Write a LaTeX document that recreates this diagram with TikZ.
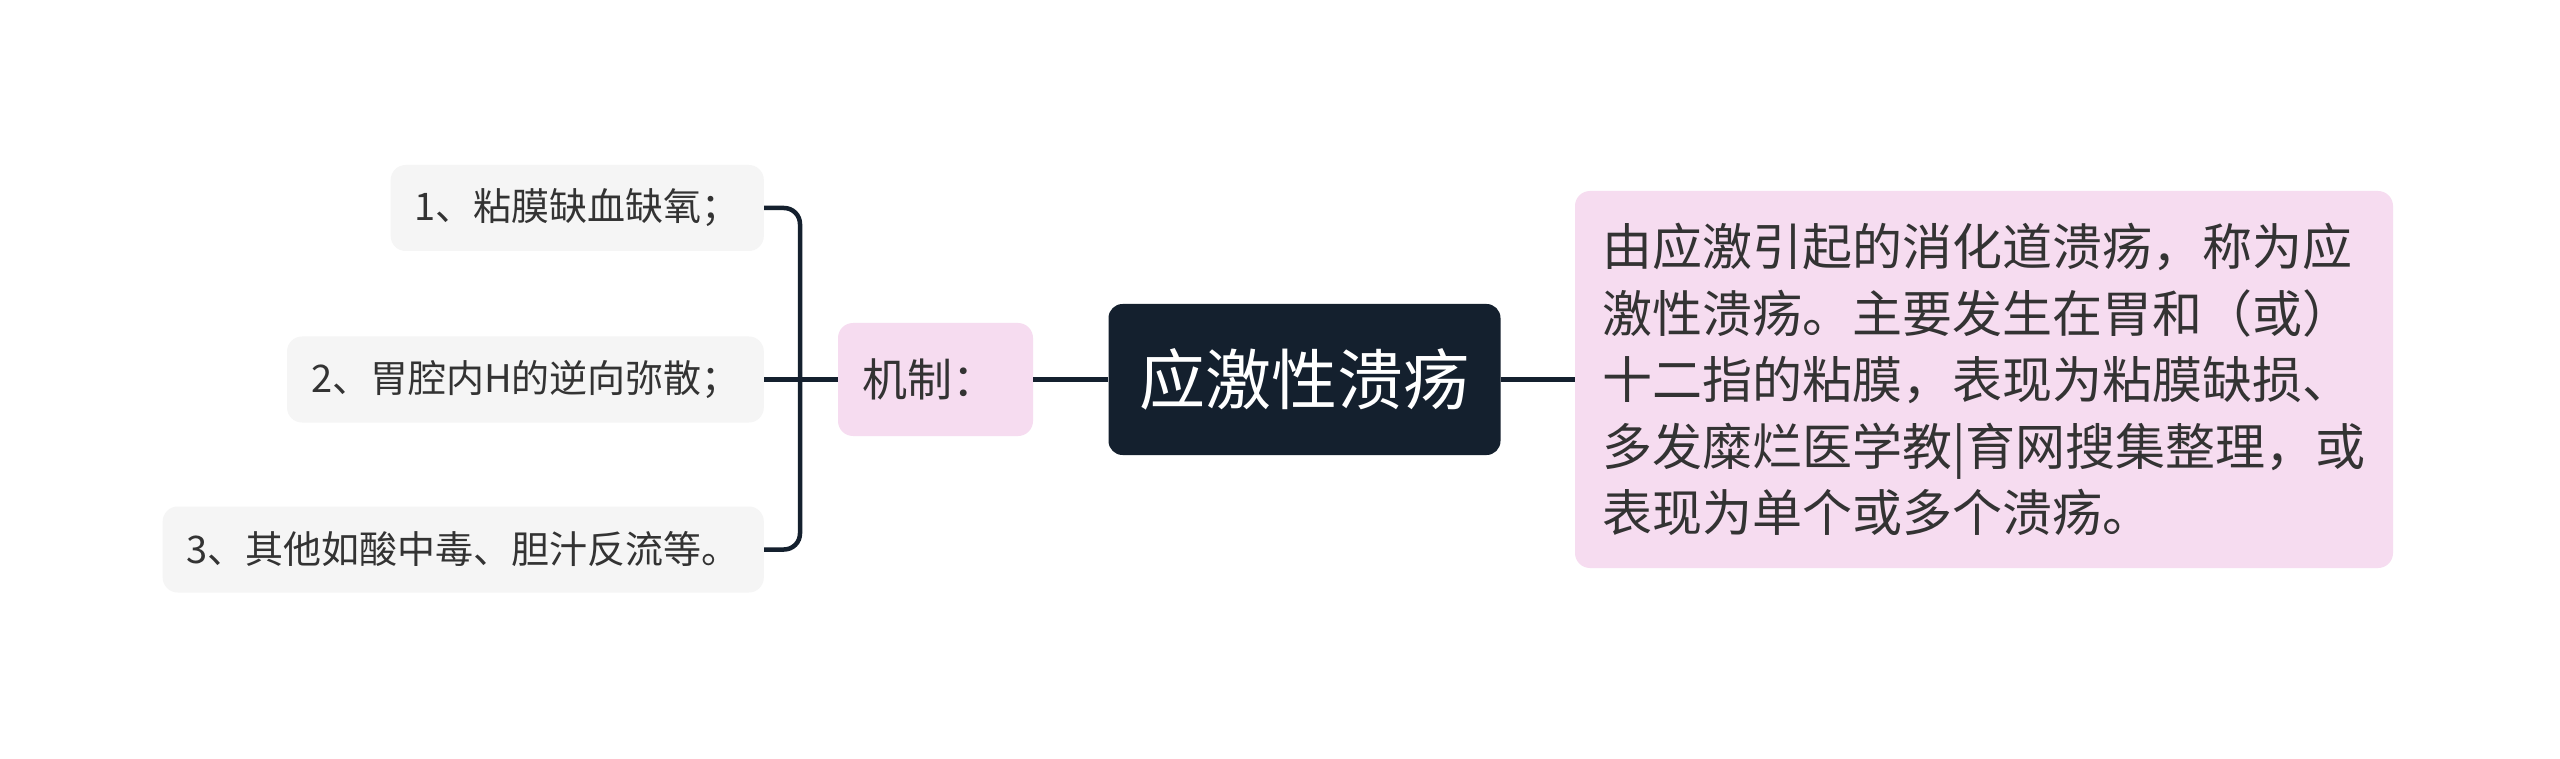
\documentclass[tikz,border=0pt]{standalone}
\usepackage{fontspec}
\setmainfont{Noto Sans CJK SC}
\definecolor{navy}{HTML}{14202E}
\definecolor{pinkbox}{HTML}{F6DCF0}
\definecolor{graybox}{HTML}{F5F5F5}
\definecolor{txt}{HTML}{333333}
\tikzset{
  conn/.style={draw=navy, line width=4.5pt},
  leaf/.style={fill=graybox, rounded corners=15pt, inner xsep=24pt, inner ysep=0pt,
     minimum height=86pt, text=txt, font=\fontsize{38}{45}\selectfont, anchor=east},
  pinkbox/.style={fill=pinkbox, rounded corners=15pt, text=txt, inner ysep=0pt},
  rootbox/.style={fill=navy, rounded corners=14pt, text=white, inner sep=0pt,
     minimum width=392pt, minimum height=151pt, font=\fontsize{66}{76}\selectfont},
}
\begin{document}
\begin{tikzpicture}[x=1pt,y=-1pt]
\useasboundingbox[fill=white] (0,0) rectangle (2560,759);
% root
\node[rootbox] (root) at (1304.5,379.5) {应激性溃疡};
% mechanism
\node[pinkbox, minimum width=195pt, minimum height=113pt, inner xsep=0pt,
      font=\fontsize{45}{52}\selectfont] (mech) at (935.5,379.5)
      {\makebox[147pt][l]{机制：}};
% detail
\node[pinkbox, minimum width=818pt, minimum height=377pt, inner xsep=25pt,
      align=left, font=\fontsize{50}{66.5}\selectfont] (detail) at (1984,379.5)
{由应激引起的消化道溃疡，称为应\\
激性溃疡。主要发生在胃和（或）\\
十二指的粘膜，表现为粘膜缺损、\\
多发糜烂医学教|育网搜集整理，或\\
表现为单个或多个溃疡。};
% leaves
\node[leaf] (l1) at (764,208) {1、粘膜缺血缺氧；};
\node[leaf] (l2) at (764,379.5) {2、胃腔内H的逆向弥散；};
\node[leaf] (l3) at (764,549.5) {3、其他如酸中毒、胆汁反流等。};
\coordinate (br) at (800,379.5);
% connectors
\draw[conn, rounded corners=16pt] (l1.east) -| (br) |- (l3.east);
\draw[conn] (l2.east) -- (mech.west);
\draw[conn] (mech.east) -- (root.west);
\draw[conn] (root.east) -- (detail.west);
\end{tikzpicture}
\end{document}
